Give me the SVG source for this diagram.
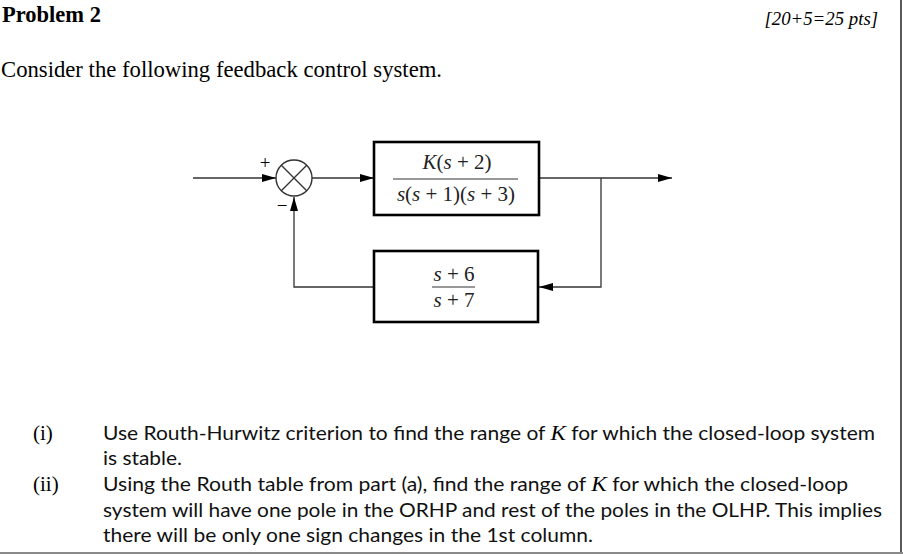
<svg xmlns="http://www.w3.org/2000/svg" width="903" height="557" viewBox="0 0 903 557">
<style>
.ser{font-family:"Liberation Serif","Times New Roman",serif;fill:#000}
.it{font-style:italic}
.cal{font-family:Lato,"Liberation Sans",sans-serif;font-size:20px;fill:#111}
.math{font-family:"Liberation Serif","Times New Roman",serif;font-size:21px;fill:#222}
.blk{fill:#fff;stroke:#000;stroke-width:2.6}
.ln{fill:none;stroke:#333;stroke-width:1.3}
.frac{stroke:#333;stroke-width:1.1}
</style>
<defs>
<marker id="ah" viewBox="0 0 14 8" refX="14" refY="4" markerWidth="14" markerHeight="8" markerUnits="userSpaceOnUse" orient="auto">
<path d="M0,0 L14,4 L0,8 Z" fill="#000"/>
</marker>
</defs>
<rect x="0" y="0" width="903" height="557" fill="#fff"/>
<line x1="901" y1="0" x2="901" y2="553" stroke="#222" stroke-width="1.5"/>
<line x1="0" y1="553" x2="903" y2="553" stroke="#888" stroke-width="2"/>

<text class="ser" x="2" y="22" font-size="22.5" font-weight="bold">Problem 2</text>
<text class="ser it" x="878" y="25" font-size="18.8" text-anchor="end">[20+5=25 pts]</text>
<text class="ser" x="1" y="77" font-size="22.7">Consider the following feedback control system.</text>

<g id="connectors">
<line class="ln" x1="193" y1="178" x2="276" y2="178" marker-end="url(#ah)"/>
<line class="ln" x1="312" y1="178" x2="374" y2="178" marker-end="url(#ah)"/>
<line class="ln" x1="539" y1="178" x2="672" y2="178" marker-end="url(#ah)"/>
<polyline class="ln" points="601,178 601,287 539,287" marker-end="url(#ah)"/>
<polyline class="ln" points="374,287 294,287 294,197" marker-end="url(#ah)"/>
</g>

<g id="sum">
<circle cx="294" cy="178" r="18" fill="#fff" stroke="#333" stroke-width="1.4"/>
<line x1="281.3" y1="165.3" x2="306.7" y2="190.7" stroke="#333" stroke-width="1.3"/>
<line x1="306.7" y1="165.3" x2="281.3" y2="190.7" stroke="#333" stroke-width="1.3"/>
<text class="ser" x="265" y="169" font-size="19" text-anchor="middle">+</text>
<text class="ser" x="282" y="212" font-size="19" text-anchor="middle">−</text>
</g>

<g id="G">
<rect class="blk" x="374" y="142" width="165" height="73"/>
<text class="math" x="457" y="169" text-anchor="middle"><tspan font-style="italic">K</tspan>(<tspan font-style="italic">s</tspan> + 2)</text>
<line class="frac" x1="393" y1="179" x2="518" y2="179"/>
<text class="math" x="456" y="201" text-anchor="middle"><tspan font-style="italic">s</tspan>(<tspan font-style="italic">s</tspan> + 1)(<tspan font-style="italic">s</tspan> + 3)</text>
</g>

<g id="H">
<rect class="blk" x="374" y="251" width="164" height="71"/>
<text class="math" x="454" y="281" text-anchor="middle"><tspan font-style="italic">s</tspan> + 6</text>
<line class="frac" x1="432" y1="287" x2="475" y2="287"/>
<text class="math" x="454" y="307" text-anchor="middle"><tspan font-style="italic">s</tspan> + 7</text>
</g>

<text class="ser" x="33" y="440" font-size="21">(i)</text>
<text class="cal" x="103" y="440" textLength="772" lengthAdjust="spacingAndGlyphs">Use Routh-Hurwitz criterion to find the range of <tspan class="ser it" font-size="22">K</tspan> for which the closed-loop system</text>
<text class="cal" x="103" y="465" textLength="79" lengthAdjust="spacingAndGlyphs">is stable.</text>
<text class="ser" x="33" y="491" font-size="21">(ii)</text>
<text class="cal" x="103" y="491" textLength="745" lengthAdjust="spacingAndGlyphs">Using the Routh table from part (a), find the range of <tspan class="ser it" font-size="22">K</tspan> for which the closed-loop</text>
<text class="cal" x="103" y="517" textLength="779" lengthAdjust="spacingAndGlyphs">system will have one pole in the ORHP and rest of the poles in the OLHP. This implies</text>
<text class="cal" x="103" y="542" textLength="490" lengthAdjust="spacingAndGlyphs">there will be only one sign changes in the 1st column.</text>
</svg>
